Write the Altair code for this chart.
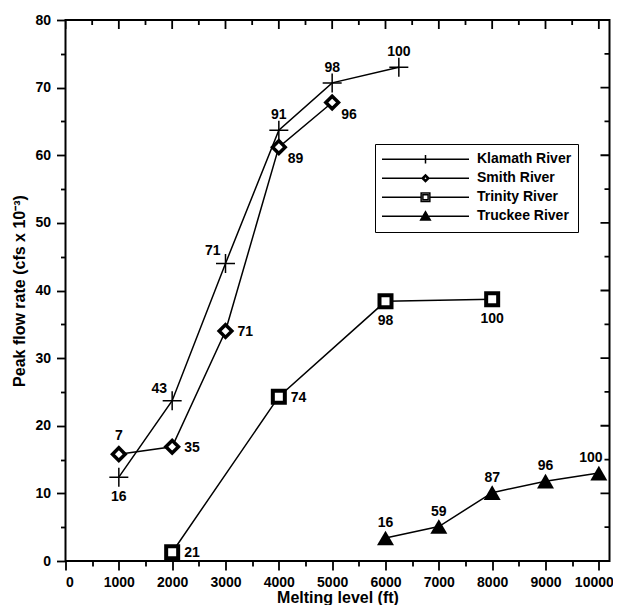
import altair as alt
import pandas as pd

FONT = "Liberation Sans"

series_names = ["Klamath River", "Smith River", "Trinity River", "Truckee River"]

klamath_x = [1000, 2000, 3000, 4000, 5000, 6250]
klamath_y = [12.4, 23.7, 44.0, 63.7, 70.7, 73.0]
klamath_lab = ["16", "43", "71", "91", "98", "100"]
klamath_pos = ["below", "above_left", "above_left", "above", "above", "above"]

smith_x = [1000, 2000, 3000, 4000, 5000]
smith_y = [15.8, 16.9, 34.0, 61.2, 67.8]
smith_lab = ["7", "35", "71", "89", "96"]
smith_pos = ["above_hi", "right", "right", "below_right", "below_right"]

trinity_x = [2000, 4000, 6000, 8000]
trinity_y = [1.3, 24.3, 38.4, 38.7]
trinity_lab = ["21", "74", "98", "100"]
trinity_pos = ["right", "right", "below", "below"]

truckee_x = [6000, 7000, 8000, 9000, 10000]
truckee_y = [3.4, 5.1, 10.1, 11.8, 13.0]
truckee_lab = ["16", "59", "87", "96", "100"]
truckee_pos = ["above", "above", "above", "above", "above_l"]

x_major = [0, 1000, 2000, 3000, 4000, 5000, 6000, 7000, 8000, 9000, 10000]
x_minor = [500, 1500, 2500, 3500, 4500, 5500, 6500, 7500, 8500, 9500]
y_major = [0, 10, 20, 30, 40, 50, 60, 70, 80]
y_minor = [5, 15, 25, 35, 45, 55, 65, 75]
x_max = 10200
y_max = 80

rows = []
for name, xs_, ys_, labs, poss in [
    (series_names[0], klamath_x, klamath_y, klamath_lab, klamath_pos),
    (series_names[1], smith_x, smith_y, smith_lab, smith_pos),
    (series_names[2], trinity_x, trinity_y, trinity_lab, trinity_pos),
    (series_names[3], truckee_x, truckee_y, truckee_lab, truckee_pos),
]:
    for a, b, c, d in zip(xs_, ys_, labs, poss):
        rows.append({"series": name, "x": a, "y": b, "label": c, "pos": d})
df = pd.DataFrame(rows)

xscale = alt.Scale(domain=[0, x_max], nice=False, zero=True)
yscale = alt.Scale(domain=[0, y_max], nice=False, zero=True)

common = dict(labelFont=FONT, labelFontSize=14, labelFontWeight="bold", labelColor="black",
              tickColor="black", tickWidth=1.8, domain=False, grid=False, ticks=True,
              titleFont=FONT, titleFontWeight="bold", titleColor="black")

X_MAJOR = "datum.value % 1000 === 0"
Y_MAJOR = "datum.value % 10 === 0"

ax_bottom = alt.Axis(orient="bottom", values=sorted(x_major + x_minor),
                     tickSize={"expr": X_MAJOR + " ? 9 : 5"},
                     labelExpr=X_MAJOR + " ? datum.value : ''", labelPadding=5,
                     labelOffset={"expr": "datum.value === 10000 ? -5 : 0"},
                     title="Melting level (ft)", titleFontSize=16, titleBaseline="alphabetic",
                     titleY=41, **common)
ax_left = alt.Axis(orient="left", values=sorted(y_major + y_minor),
                   tickSize={"expr": Y_MAJOR + " ? 9 : 5"},
                   labelExpr=Y_MAJOR + " ? datum.value : ''", labelPadding=6,
                   title="Peak flow rate (cfs x 10⁻³)", titleFontSize=16, titlePadding=7, **common)


def enc(ax_x=None, ax_y=None):
    return dict(x=alt.X("x:Q", scale=xscale, axis=ax_x), y=alt.Y("y:Q", scale=yscale, axis=ax_y))


base = alt.Chart(df)

lines = base.mark_line(color="black", strokeWidth=1.5).encode(detail="series:N", **enc(ax_bottom, ax_left))

klamath_pts = base.transform_filter(alt.datum.series == series_names[0]).mark_point(
    shape="M-1,0H1M0,-1V1", size=361, filled=False, stroke="black", strokeWidth=1.5, opacity=1
).encode(**enc())

smith_pts = base.transform_filter(alt.datum.series == series_names[1]).mark_point(
    shape="diamond", size=160, filled=True, fill="white", stroke="black", strokeWidth=3.5, opacity=1
).encode(**enc())

trinity_pts = base.transform_filter(alt.datum.series == series_names[2]).mark_point(
    shape="square", size=144, filled=True, fill="white", stroke="black", strokeWidth=4, opacity=1
).encode(**enc())

truckee_pts = base.transform_filter(alt.datum.series == series_names[3]).mark_point(
    shape="triangle-up", size=289, filled=True, color="black", opacity=1
).encode(**enc())

pos_styles = {
    "above": dict(align="center", baseline="alphabetic", dx=0, dy=-11),
    "above_hi": dict(align="center", baseline="alphabetic", dx=0, dy=-14),
    "above_l": dict(align="center", baseline="alphabetic", dx=-8, dy=-11),
    "below": dict(align="center", baseline="top", dx=0, dy=13),
    "right": dict(align="left", baseline="middle", dx=12, dy=1),
    "above_left": dict(align="right", baseline="alphabetic", dx=-5, dy=-8),
    "below_right": dict(align="left", baseline="top", dx=9, dy=5),
}
text_layers = []
for p, st in pos_styles.items():
    text_layers.append(
        base.transform_filter(alt.datum.pos == p).mark_text(
            font=FONT, fontSize=14, fontWeight="bold", color="black", **st
        ).encode(text="label:N", **enc())
    )


# mirrored inward ticks on the top and right frame edges
def top_ticks(vals, length):
    return alt.Chart(pd.DataFrame({"v": vals})).mark_tick(
        orient="vertical", size=2 * length, thickness=1.8, color="black", opacity=1, clip=True
    ).encode(x=alt.X("v:Q", scale=xscale, axis=None), y=alt.YDatum(y_max, scale=yscale, axis=None))


def right_ticks(vals, length):
    return alt.Chart(pd.DataFrame({"v": vals})).mark_tick(
        orient="horizontal", size=2 * length, thickness=1.8, color="black", opacity=1, clip=True
    ).encode(y=alt.Y("v:Q", scale=yscale, axis=None), x=alt.XDatum(x_max, scale=xscale, axis=None))


frame_ticks = [top_ticks(x_major, 9), top_ticks(x_minor, 5), right_ticks(y_major, 9), right_ticks(y_minor, 5)]

legend_paths = [
    "M-1,0H1M0,-0.1V0.1",
    "M-1,0H-0.08M0.08,0H1M-0.08,0L0,-0.08L0.08,0L0,0.08ZM-0.045,0L0,-0.045L0.045,0L0,0.045Z",
    "M-1,0H-0.1M0.1,0H1M-0.1,-0.1H0.1V0.1H-0.1ZM-0.06,-0.06H0.06V0.06H-0.06Z",
    "M-1,0H1M-0.11,0.085L0,-0.105L0.11,0.085Z",
]
legend_fills = ["white", "white", "white", "black"]
legend_strokes = ["black", "black", "black", "black"]
leg = alt.Legend(orient="none", legendX=309.5, legendY=124)

legend_layer = base.transform_filter("false").mark_point(
    filled=True, strokeWidth=1.5, opacity=1, size=7569
).encode(
    shape=alt.Shape("series:N", scale=alt.Scale(domain=series_names, range=legend_paths), legend=leg, title=None),
    fill=alt.Fill("series:N", scale=alt.Scale(domain=series_names, range=legend_fills), legend=leg, title=None),
    stroke=alt.Stroke("series:N", scale=alt.Scale(domain=series_names, range=legend_strokes), legend=leg, title=None),
)

chart = alt.layer(
    lines, *frame_ticks, klamath_pts, smith_pts, trinity_pts, truckee_pts, *text_layers, legend_layer
).resolve_axis(x="independent", y="independent").properties(
    width=544, height=541,
    autosize=alt.AutoSizeParams(type="none"),
    padding={"left": 57.5, "top": 12, "right": 3.5, "bottom": 44},
    background="white",
).configure(font=FONT).configure_view(stroke="black", strokeWidth=2).configure_legend(
    strokeColor="black", padding=6, fillColor="white", clipHeight=18.5, rowPadding=0,
    symbolSize=7569, labelOffset=7, labelFont=FONT, labelFontSize=14, labelFontWeight="bold",
    labelColor="black", symbolStrokeWidth=1.5, symbolStrokeColor="black", symbolOpacity=1,
)

chart.save("out.html", embed_options={"renderer": "svg", "actions": False})
